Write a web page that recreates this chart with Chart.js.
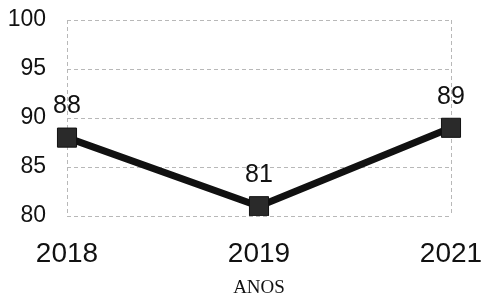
<!DOCTYPE html>
<html>
<head>
<meta charset="utf-8">
<script src="https://cdn.jsdelivr.net/npm/chart.js@4"></script>
<style>
  html, body { margin: 0; padding: 0; background: #fff; }
  #wrap { width: 483px; height: 298px; }
</style>
</head>
<body>
<div id="wrap"><canvas id="chart"></canvas></div>
<script>
const years = ['2018', '2019', '2021'];
const values = [88, 81, 89];
const yTicks = [80, 85, 90, 95, 100];
const xTitle = 'ANOS';

const black = '#111';
const gridGray = '#b8b8b8';

const valueLabels = {
  id: 'valueLabels',
  afterDatasetsDraw(chart) {
    const { ctx } = chart;
    const meta = chart.getDatasetMeta(0);
    ctx.save();
    ctx.font = '25px "Liberation Sans", Arial, sans-serif';
    ctx.fillStyle = black;
    ctx.textAlign = 'center';
    ctx.textBaseline = 'middle';
    meta.data.forEach((pt, i) => {
      ctx.fillText(String(values[i]), pt.x, pt.y - 31);
    });
    ctx.restore();
  }
};

new Chart(document.getElementById('chart'), {
  type: 'line',
  plugins: [valueLabels],
  data: {
    labels: years,
    datasets: [{
      data: values,
      borderColor: black,
      borderWidth: 7,
      pointStyle: 'rect',
      pointRadius: 13.5,
      pointBackgroundColor: '#2a2a2a',
      pointBorderColor: black,
      pointBorderWidth: 1,
      tension: 0
    }]
  },
  options: {
    responsive: true,
    maintainAspectRatio: false,
    animation: false,
    layout: {
      padding: { left: 0, right: 32, top: 20, bottom: 0 }
    },
    scales: {
      y: {
        min: 80,
        max: 100,
        afterBuildTicks: (axis) => {
          axis.ticks = yTicks.map(v => ({ value: v }));
        },
        afterFit: (axis) => {
          axis.width = 67;
          axis.paddingTop = 0;
          axis.paddingBottom = 0;
        },
        border: { display: false, dash: [4, 3] },
        grid: {
          color: gridGray,
          lineWidth: 1,
          drawTicks: false
        },
        ticks: {
          padding: 21,
          color: black,
          font: { family: '"Liberation Sans", Arial, sans-serif', size: 23 }
        }
      },
      x: {
        offset: false,
        afterFit: (axis) => {
          axis.height = 82;
          axis.paddingLeft = 0;
          axis.paddingRight = 0;
        },
        border: { display: false, dash: [4, 3] },
        grid: {
          color: (c) => (c.index === 0 || c.index === years.length - 1) ? gridGray : 'rgba(0,0,0,0)',
          drawTicks: false
        },
        ticks: {
          padding: 21,
          color: black,
          maxRotation: 0,
          font: { family: '"Liberation Sans", Arial, sans-serif', size: 28 }
        },
        title: {
          display: true,
          text: xTitle,
          color: black,
          padding: { top: 0, bottom: 0 },
          font: { family: '"Liberation Serif", "Times New Roman", serif', size: 19, lineHeight: 1 }
        }
      }
    },
    plugins: {
      legend: { display: false },
      tooltip: { enabled: false }
    }
  }
});
</script>
</body>
</html>
